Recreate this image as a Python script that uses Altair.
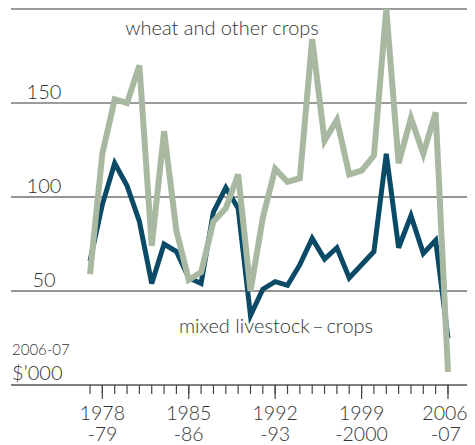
import altair as alt
import pandas as pd

years = [1977, 1978, 1979, 1980, 1981, 1982, 1983, 1984, 1985, 1986,
         1987, 1988, 1989, 1990, 1991, 1992, 1993, 1994, 1995, 1996,
         1997, 1998, 1999, 2000, 2001, 2002, 2003, 2004, 2005, 2006]
wheat = [59, 123, 152, 150, 170, 74, 135, 82, 56, 60,
         87, 94, 112, 50, 89, 115, 108, 110, 184, 130,
         141, 112, 114, 122, 200, 118, 142, 123, 145, 7]
mixed = [66, 96, 118, 106, 87, 54, 75, 71, 57, 54,
         92, 105, 94, 37, 51, 55, 53, 64, 78, 67,
         73, 57, 64, 71, 123, 73, 90, 70, 77, 25]

major_years = [1978, 1985, 1992, 1999, 2006]
major_line1 = ["1978", "1985", "1992", "1999", "2006"]
major_line2 = ["-79", "-86", "-93", "-2000", "-07"]

y_labels = [50, 100, 150]
grid_vals = [0, 50, 100, 150, 200]
grid_colors = ["#555555", "#2a2a2a", "#2a2a2a", "#7a7a7a", "#7a7a7a"]
grid_widths = [1.3, 1.0, 1.0, 1.5, 1.5]

W = 456
H = 376
FONT = "Lato"
TXT = "#333333"
WHEAT_C = "#a9b9a1"
MIXED_C = "#0b4a66"

xscale = alt.Scale(domain=[1970.6, 2007.54], nice=False, zero=False)
yscale = alt.Scale(domain=[0, 200], nice=False, zero=True)

df = pd.DataFrame({"year": years, "wheat": wheat, "mixed": mixed})
grid_df = pd.DataFrame({"v": grid_vals, "c": grid_colors, "w": grid_widths})
ylab_df = pd.DataFrame({"v": y_labels, "t": [str(v) for v in y_labels]})
major_df = pd.DataFrame({"year": major_years, "l1": major_line1, "l2": major_line2})
tick_df = pd.DataFrame({"year": years})

X = lambda f: alt.X(f, type="quantitative", scale=xscale, axis=None)
Y = lambda f: alt.Y(f, type="quantitative", scale=yscale, axis=None)

grid = alt.Chart(grid_df).mark_rule().encode(
    x=alt.value(0), x2=alt.value(W + 8), y=Y("v"),
    color=alt.Color("c:N", scale=None),
    strokeWidth=alt.StrokeWidth("w:Q", scale=None),
)

ylab = alt.Chart(ylab_df).mark_text(
    font=FONT, fontSize=20, fontWeight=300, color=TXT,
    align="center", baseline="alphabetic", dy=-4,
).encode(x=alt.value(33), y=Y("v"), text="t:N")

ticks_short = alt.Chart(tick_df).mark_rule(color="#444444", strokeWidth=1.2).encode(
    x=X("year"), y=alt.value(H), y2=alt.value(H + 9)
)
ticks_long = alt.Chart(major_df).mark_rule(color="#444444", strokeWidth=1.2).encode(
    x=X("year"), y=alt.value(H), y2=alt.value(H + 14)
)

def year_labels(field, ypix, dx, flt):
    return alt.Chart(major_df).transform_filter(flt).mark_text(
        font=FONT, fontSize=19.5, fontWeight=300, color=TXT,
        align="center", baseline="alphabetic", dx=dx,
    ).encode(x=X("year"), y=alt.value(ypix), text=f"{field}:N")

inner = alt.datum.year < 2006
last = alt.datum.year >= 2006
xl1a = year_labels("l1", H + 35, 0, inner)
xl1b = year_labels("l1", H + 35, -3, last)
xl2a = year_labels("l2", H + 56, 0, inner)
xl2b = year_labels("l2", H + 56, -2, last)

line_mixed = alt.Chart(df).mark_line(color=MIXED_C, strokeWidth=5).encode(
    x=X("year"), y=Y("mixed")
)
line_wheat = alt.Chart(df).mark_line(color=WHEAT_C, strokeWidth=6).encode(
    x=X("year"), y=Y("wheat")
)

t_wheat = alt.Chart().mark_text(
    text="wheat and other crops", font=FONT, fontSize=20, fontWeight=300, color=TXT,
    align="center", baseline="alphabetic",
).encode(x=alt.value(211), y=alt.value(26))
t_mixed = alt.Chart().mark_text(
    text="mixed livestock\u2009\u2013\u2009crops", font=FONT, fontSize=20, fontWeight=300, color=TXT,
    align="center", baseline="alphabetic",
).encode(x=alt.value(265), y=alt.value(324))
t_unit1 = alt.Chart().mark_text(
    text="2006-07", font=FONT, fontSize=15, fontWeight=300, color=TXT,
    align="left", baseline="alphabetic",
).encode(x=alt.value(1), y=alt.value(346))
t_unit2 = alt.Chart().mark_text(
    text="$\u2019000", font=FONT, fontSize=20, fontWeight=300, color=TXT,
    align="left", baseline="alphabetic",
).encode(x=alt.value(1), y=alt.value(371))

chart = alt.layer(
    grid, ylab, ticks_short, ticks_long, xl1a, xl1b, xl2a, xl2b,
    line_mixed, line_wheat, t_wheat, t_mixed, t_unit1, t_unit2,
).properties(
    width=W, height=H,
    autosize=alt.AutoSizeParams(type="none"),
    padding={"left": 3, "top": 1, "right": 0, "bottom": 60},
).configure_view(stroke=None)

chart.save("out.html", embed_options={"renderer": "svg", "actions": False})
